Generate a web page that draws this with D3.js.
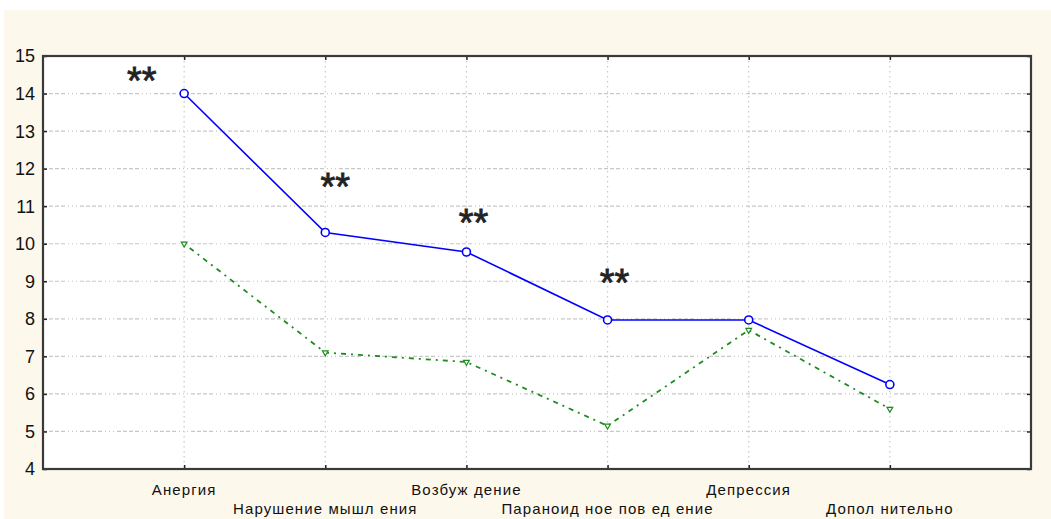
<!DOCTYPE html>
<html>
<head>
<meta charset="utf-8">
<script src="https://cdn.jsdelivr.net/npm/d3@7"></script>
<style>
  body { margin: 0; background: #fff; }
  svg { display: block; }
</style>
</head>
<body>
<div id="chart"></div>
<script>
"use strict";

var categories = ["Анергия", "Нарушение мышл ения", "Возбуж дение", "Параноид ное  пов ед ение", "Депрессия", "Допол нительно"];
var seriesA = [14.0, 10.3, 9.78, 7.97, 7.97, 6.25];
var seriesB = [10.0, 7.1, 6.85, 5.15, 7.7, 5.6];
// "**" marks: category index, x shift (in category units), level on value axis
var starIndex = [0, 1, 2, 3];
var starShift = [-0.3, 0.07, 0.05, 0.05];
var starLevel = [14.35, 11.53, 10.57, 8.98];
var yTicks = [4, 5, 6, 7, 8, 9, 10, 11, 12, 13, 14, 15];

var width = 1051, height = 519;
var plot = { left: 43, top: 56, right: 1031, bottom: 469 };

var svg = d3.select("#chart").append("svg")
	.attr("width", width)
	.attr("height", height);

// outer cream panel
svg.append("rect").attr("x", 4).attr("y", 10).attr("width", width - 4).attr("height", height - 10).attr("fill", "#fdf8ec");

var x = d3.scaleLinear().domain([-1, categories.length]).range([plot.left, plot.right]);
var y = d3.scaleLinear().domain([4, 15]).range([plot.bottom, plot.top]);

svg.append("rect")
	.attr("x", plot.left).attr("y", plot.top)
	.attr("width", plot.right - plot.left).attr("height", plot.bottom - plot.top)
	.attr("fill", "#fff");

var gridDash = "4,2,4,2,4,2,4,3,1,3,1,3,1,3";

// horizontal grid
svg.append("g").selectAll("line").data(yTicks.slice(1, -1)).join("line")
	.attr("x1", plot.left).attr("x2", plot.right)
	.attr("y1", function(d) { return y(d); }).attr("y2", function(d) { return y(d); })
	.attr("stroke", "#c8c8c8").attr("stroke-width", 1.2).attr("stroke-dasharray", gridDash);

// vertical grid
svg.append("g").selectAll("line").data(categories).join("line")
	.attr("x1", function(d, i) { return x(i); }).attr("x2", function(d, i) { return x(i); })
	.attr("y1", plot.top).attr("y2", plot.bottom)
	.attr("stroke", "#c8c8c8").attr("stroke-width", 1.2).attr("stroke-dasharray", "1.5,3.5");

// axes (inward ticks)
var font = "'Liberation Sans', Arial, sans-serif";
var axLeft = svg.append("g").attr("transform", "translate(" + plot.left + ",0)")
	.call(d3.axisRight(y).tickValues(yTicks).tickSize(4).tickFormat(""));
var axRight = svg.append("g").attr("transform", "translate(" + plot.right + ",0)")
	.call(d3.axisLeft(y).tickValues(yTicks).tickSize(4).tickFormat(""));
var axBottom = svg.append("g").attr("transform", "translate(0," + plot.bottom + ")")
	.call(d3.axisTop(x).tickValues(d3.range(categories.length)).tickSize(4).tickFormat(""));
var axTop = svg.append("g").attr("transform", "translate(0," + plot.top + ")")
	.call(d3.axisBottom(x).tickValues(d3.range(categories.length)).tickSize(4).tickFormat(""));
[axLeft, axRight, axBottom, axTop].forEach(function(g) {
	g.select(".domain").remove();
	g.selectAll("line").attr("stroke", "#222").attr("stroke-width", 1.5);
});

// frame
svg.append("rect")
	.attr("x", plot.left).attr("y", plot.top)
	.attr("width", plot.right - plot.left).attr("height", plot.bottom - plot.top)
	.attr("fill", "none").attr("stroke", "#3a3a3a").attr("stroke-width", 2.2);

// y labels
svg.append("g").selectAll("text").data(yTicks).join("text")
	.attr("x", 35).attr("y", function(d) { return y(d); })
	.attr("dy", "0.36em")
	.attr("text-anchor", "end")
	.attr("font-family", font).attr("font-size", 18)
	.attr("fill", "#111")
	.text(function(d) { return d; });

// x labels, staggered
svg.append("g").selectAll("text").data(categories).join("text")
	.attr("x", function(d, i) { return x(i); })
	.attr("y", function(d, i) { return i % 2 === 0 ? 495 : 514; })
	.attr("text-anchor", "middle")
	.attr("font-family", font).attr("font-size", 15).attr("letter-spacing", 1.1)
	.attr("fill", "#111")
	.text(function(d) { return d; });

// series B: green dotted, small triangles
var line = d3.line().x(function(d, i) { return x(i); }).y(function(d) { return y(d); });
svg.append("path").datum(seriesB)
	.attr("d", line)
	.attr("fill", "none").attr("stroke", "#1e8c1e").attr("stroke-width", 1.8)
	.attr("stroke-dasharray", "2,5,5,5");
svg.append("g").selectAll("path").data(seriesB).join("path")
	.attr("transform", function(d, i) { return "translate(" + x(i) + "," + y(d) + ") rotate(180)"; })
	.attr("d", d3.symbol(d3.symbolTriangle, 14))
	.attr("fill", "#fff").attr("stroke", "#1e8c1e").attr("stroke-width", 1.2);

// series A: blue solid, open circles
svg.append("path").datum(seriesA)
	.attr("d", line)
	.attr("fill", "none").attr("stroke", "#0000ff").attr("stroke-width", 1.6);
svg.append("g").selectAll("circle").data(seriesA).join("circle")
	.attr("cx", function(d, i) { return x(i); }).attr("cy", function(d) { return y(d); })
	.attr("r", 4)
	.attr("fill", "#fff").attr("stroke", "#0000ff").attr("stroke-width", 1.6);

// significance marks
svg.append("g").selectAll("text").data(starIndex).join("text")
	.attr("x", function(d, i) { return x(d + starShift[i]); })
	.attr("y", function(d, i) { return y(starLevel[i]) + 14; })
	.attr("text-anchor", "middle")
	.attr("font-family", font).attr("font-size", 38)
	.attr("fill", "#222").attr("stroke", "#222").attr("stroke-width", 0.8)
	.text("**");
</script>
</body>
</html>
